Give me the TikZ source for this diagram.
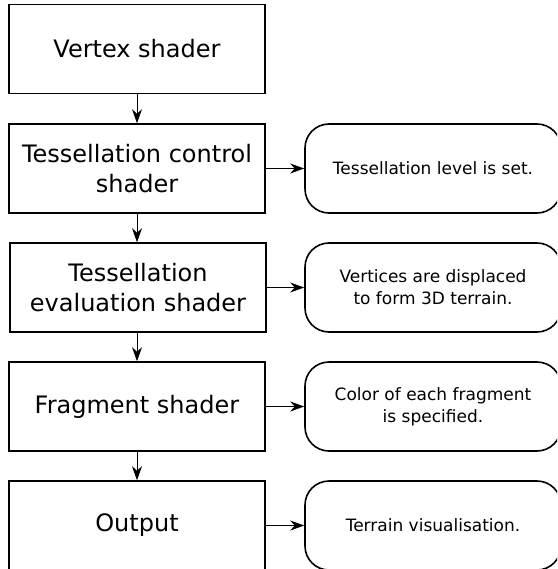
\documentclass[tikz,border=0pt]{standalone}
\usepackage{fontspec}
\setmainfont{DejaVu Sans}
\usetikzlibrary{arrows.meta}

\begin{document}
\begin{tikzpicture}[x=1pt, y=-1pt,
    stage/.style={draw, line width=1.6pt, minimum width=256pt, minimum height=89pt,
        inner sep=0pt, align=center, font=\fontsize{24}{30}\selectfont},
    note/.style={draw, line width=1.6pt, rounded corners=24pt, minimum width=256pt,
        minimum height=89pt, inner sep=0pt, align=center, font=\fontsize{17}{22}\selectfont},
    flow/.style={-{Stealth[length=14pt, width=10pt]}, line width=0.9pt}]
    \useasboundingbox (0,0) rectangle (557,569);
    \clip (0,0) rectangle (557,569);

    % Pipeline stages
    \node[stage] (vertex) at (137, 49) {Vertex shader};
    \node[stage] (control) at (137, 168.5) {Tessellation control\\shader};
    \node[stage] (evaluation) at (138, 287.5) {Tessellation\\evaluation shader};
    \node[stage] (fragment) at (137, 406.5) {Fragment shader};
    \node[stage] (output) at (137, 525.5) {Output};

    % What each stage does
    \node[note] (level) at (433, 168.5) {Tessellation level is set.};
    \node[note] (displace) at (433, 287.5) {Vertices are displaced\\to form 3D terrain.};
    \node[note] (color) at (433, 406.5) {Color of each fragment\\is specified.};
    \node[note] (terrain) at (433, 525.5) {Terrain visualisation.};

    % Flow down the pipeline
    \draw[flow] (vertex) -- (control);
    \draw[flow] (control) -- (evaluation.north -| control);
    \draw[flow] (evaluation.south -| control) -- (fragment);
    \draw[flow] (fragment) -- (output);

    % Side notes
    \draw[flow] (control) -- (level);
    \draw[flow] (evaluation) -- (displace);
    \draw[flow] (fragment) -- (color);
    \draw[flow] (output) -- (terrain);
\end{tikzpicture}
\end{document}
